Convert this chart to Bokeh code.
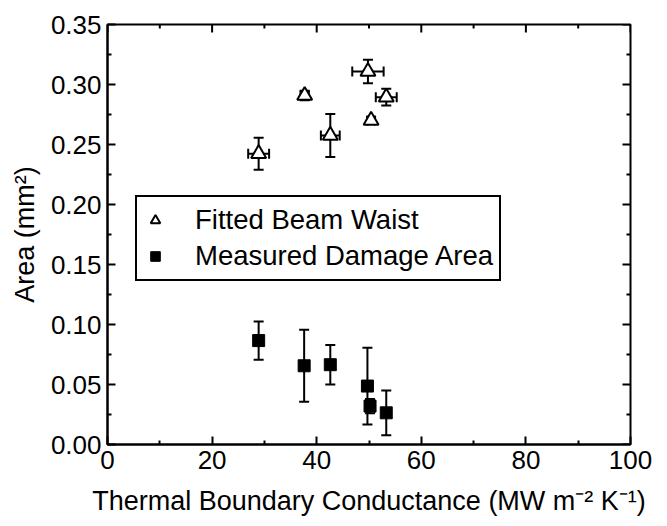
import math
from bokeh.plotting import figure
from bokeh.models import (ColumnDataSource, Whisker, TeeHead, FixedTicker,
                          Legend, LegendItem, NumeralTickFormatter, Range1d)
from bokeh.embed import file_html
from bokeh.resources import INLINE

# ---- data ----
beam_conductance = [28.9, 37.7, 42.6, 49.8, 50.4, 53.3]
beam_conductance_err = [2.0, 0.8, 1.8, 3.0, 0.7, 2.0]
beam_area = [0.2423, 0.2908, 0.2575, 0.3108, 0.2700, 0.2894]
beam_area_err = [0.0133, 0.004, 0.018, 0.0098, 0.003, 0.007]

damage_conductance = [28.9, 37.6, 42.6, 49.7, 50.2, 53.3]
damage_area = [0.0866, 0.0656, 0.0665, 0.0487, 0.0320, 0.0264]
damage_area_err = [0.016, 0.030, 0.0165, 0.032, 0.006, 0.0186]

x_ticks = [0, 20, 40, 60, 80, 100]
x_minor = [10, 30, 50, 70, 90]
y_ticks = [0.0, 0.05, 0.10, 0.15, 0.20, 0.25, 0.30, 0.35]
y_minor = [0.025, 0.075, 0.125, 0.175, 0.225, 0.275, 0.325]
X_MIN, X_MAX = 0, 100
Y_MIN, Y_MAX = 0.0, 0.35

legend_labels = ["Fitted Beam Waist", "Measured Damage Area"]
x_title = "Thermal Boundary Conductance (MW m\u207b\u00b2 K\u207b\u00b9)"
y_title = "Area (mm\u00b2)"

FONT = "Liberation Sans"

beam_src = ColumnDataSource(dict(
    x=beam_conductance, y=beam_area,
    ylo=[a - e for a, e in zip(beam_area, beam_area_err)],
    yhi=[a + e for a, e in zip(beam_area, beam_area_err)],
    xlo=[c - e for c, e in zip(beam_conductance, beam_conductance_err)],
    xhi=[c + e for c, e in zip(beam_conductance, beam_conductance_err)],
))
dmg_src = ColumnDataSource(dict(
    x=damage_conductance, y=damage_area,
    ylo=[a - e for a, e in zip(damage_area, damage_area_err)],
    yhi=[a + e for a, e in zip(damage_area, damage_area_err)],
))

p = figure(width=667, height=526, output_backend="svg", toolbar_location=None,
           x_range=Range1d(X_MIN, X_MAX), y_range=Range1d(Y_MIN, Y_MAX),
           min_border_left=107, min_border_right=37, min_border_top=24, min_border_bottom=82)
p.grid.visible = False
p.outline_line_color = "black"
p.outline_line_width = 2
p.outline_line_alpha = 1
p.background_fill_color = "white"
p.border_fill_color = "white"

xt = FixedTicker(ticks=x_ticks, minor_ticks=x_minor)
yt = FixedTicker(ticks=y_ticks, minor_ticks=y_minor)


def style_axis(ax):
    ax.axis_line_width = 2
    ax.axis_line_color = "black"
    ax.major_tick_line_width = 2
    ax.minor_tick_line_width = 2
    ax.major_tick_in = 8
    ax.major_tick_out = 0
    ax.minor_tick_in = 4
    ax.minor_tick_out = 0
    ax.major_tick_line_color = "black"
    ax.minor_tick_line_color = "black"
    ax.major_label_text_font = FONT
    ax.major_label_text_font_size = "26px"
    ax.major_label_text_color = "black"
    ax.major_label_standoff = 6
    ax.axis_label_text_font = FONT
    ax.axis_label_text_font_size = "27px"
    ax.axis_label_text_font_style = "normal"
    ax.axis_label_text_color = "black"


xa = p.xaxis[0]
xa.ticker = xt
xa.axis_label = x_title
style_axis(xa)
xa.axis_label_standoff = 14

ya = p.yaxis[0]
ya.ticker = yt
ya.formatter = NumeralTickFormatter(format="0.00")
ya.axis_label = y_title
style_axis(ya)
ya.axis_label_standoff = 8

# mirrored ticks on top and right frame edges (screen-length rays)
tick_style = dict(line_color="black", line_width=2, length_units="screen")
p.ray(x=x_ticks, y=[Y_MAX] * len(x_ticks), length=8, angle=-math.pi / 2, **tick_style)
p.ray(x=x_minor, y=[Y_MAX] * len(x_minor), length=4, angle=-math.pi / 2, **tick_style)
p.ray(x=[X_MAX] * len(y_ticks), y=y_ticks, length=8, angle=math.pi, **tick_style)
p.ray(x=[X_MAX] * len(y_minor), y=y_minor, length=4, angle=math.pi, **tick_style)

# error bars
head = dict(size=10, line_width=2, line_color="black")
p.add_layout(Whisker(base="x", lower="ylo", upper="yhi", source=beam_src, dimension="height",
                     line_width=2, line_color="black", level="underlay",
                     lower_head=TeeHead(**head), upper_head=TeeHead(**head)))
p.add_layout(Whisker(base="y", lower="xlo", upper="xhi", source=beam_src, dimension="width",
                     line_width=2, line_color="black", level="underlay",
                     lower_head=TeeHead(**head), upper_head=TeeHead(**head)))
p.add_layout(Whisker(base="x", lower="ylo", upper="yhi", source=dmg_src, dimension="height",
                     line_width=2, line_color="black", level="underlay",
                     lower_head=TeeHead(**head), upper_head=TeeHead(**head)))

tri = p.scatter("x", "y", source=beam_src, marker="triangle", size=15,
                fill_color="white", line_color="black", line_width=2)
sq = p.scatter("x", "y", source=dmg_src, marker="square", size=12,
               fill_color="black", line_color="black", line_width=1)

legend = Legend(items=[LegendItem(label=legend_labels[0], renderers=[tri]),
                       LegendItem(label=legend_labels[1], renderers=[sq])],
                location=(28, 163), margin=0, padding=6, spacing=2,
                glyph_width=24, glyph_height=34, label_height=34, label_standoff=28,
                label_text_font=FONT, label_text_font_size="27.5px", label_text_color="black",
                border_line_color="black", border_line_width=2, border_line_alpha=1,
                background_fill_color="white", background_fill_alpha=1)
p.add_layout(legend, "center")

open("out.html", "w").write(file_html(p, INLINE))
